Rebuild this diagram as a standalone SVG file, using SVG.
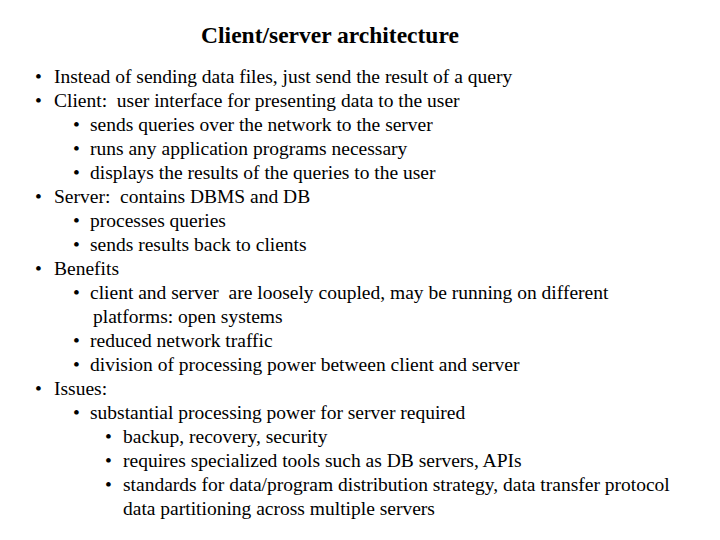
<svg xmlns="http://www.w3.org/2000/svg" width="720" height="540" viewBox="0 0 720 540">
<style>
text{font-family:"Liberation Serif","Times New Roman",serif;font-size:19.5px;fill:#000;white-space:pre}
.t{font-size:23.5px;font-weight:bold}
</style>
<rect width="720" height="540" fill="#fff"/>
<g id="title"><text class="t" x="330" y="43" text-anchor="middle">Client/server architecture</text></g>
<g id="body" xml:space="preserve">
<text x="35" y="83">•</text><text x="54" y="83">Instead of sending data files, just send the result of a query</text>
<text x="35" y="107">•</text><text x="54" y="107">Client:  user interface for presenting data to the user</text>
<text x="73" y="131">•</text><text x="90" y="131">sends queries over the network to the server</text>
<text x="73" y="155">•</text><text x="90" y="155">runs any application programs necessary</text>
<text x="73" y="179">•</text><text x="90" y="179">displays the results of the queries to the user</text>
<text x="35" y="203">•</text><text x="54" y="203">Server:  contains DBMS and DB</text>
<text x="73" y="227">•</text><text x="90" y="227">processes queries</text>
<text x="73" y="251">•</text><text x="90" y="251">sends results back to clients</text>
<text x="35" y="275">•</text><text x="54" y="275">Benefits</text>
<text x="73" y="299">•</text><text x="90" y="299">client and server  are loosely coupled, may be running on different</text>
<text x="93" y="323">platforms: open systems</text>
<text x="73" y="347">•</text><text x="90" y="347">reduced network traffic</text>
<text x="73" y="371">•</text><text x="90" y="371">division of processing power between client and server</text>
<text x="35" y="395">•</text><text x="54" y="395">Issues:</text>
<text x="73" y="419">•</text><text x="90" y="419">substantial processing power for server required</text>
<text x="105" y="443">•</text><text x="123" y="443">backup, recovery, security</text>
<text x="105" y="467">•</text><text x="123" y="467">requires specialized tools such as DB servers, APIs</text>
<text x="105" y="491">•</text><text x="123" y="491">standards for data/program distribution strategy, data transfer protocol</text>
<text x="123" y="515">data partitioning across multiple servers</text>
</g>
</svg>
